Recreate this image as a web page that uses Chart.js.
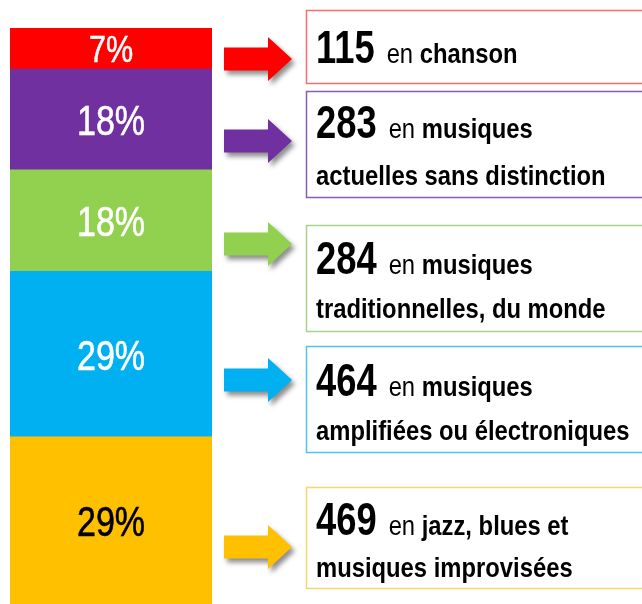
<!DOCTYPE html>
<html>
<head>
<meta charset="utf-8">
<script src="https://cdn.jsdelivr.net/npm/chart.js@4/dist/chart.umd.min.js"></script>
<style>
  html, body { margin: 0; padding: 0; background: #fff; }
  #wrap { width: 642px; height: 604px; position: relative; }
</style>
</head>
<body>
<div id="wrap"><canvas id="genreChart"></canvas></div>
<script>
// Data, top of the bar to bottom
const genres = ['chanson', 'actuelles', 'traditionnelles', 'amplifiées', 'jazz'];
const counts = [115, 283, 284, 464, 469];
const pctLabels = ['7%', '18%', '18%', '29%', '29%'];
const firstLine = ['chanson', 'musiques', 'musiques', 'musiques', 'jazz, blues et'];
const secondLine = ['', 'actuelles sans distinction', 'traditionnelles, du monde', 'amplifiées ou électroniques', 'musiques improvisées'];

const fills = ['#FF0000', '#7030A0', '#92D050', '#00B0F0', '#FFC000'];
const borders = ['#FF6B6B', '#8A5BB5', '#A9D38A', '#4FC3F0', '#F7D66E'];
const pctColors = ['#fff', '#fff', '#fff', '#fff', '#000'];

// layout of the callouts on the right
const arrowY = [59, 141, 244, 380, 547];
const boxTop = [10, 91, 225, 346, 487];
const boxBottom = [83, 197, 331, 452, 588];
const base1 = [63, 138, 274, 396, 535];
const base2 = [0, 185, 318, 440, 577];

// no narrow font installed: squeeze Liberation Sans horizontally instead
const FONT = '"Liberation Sans", Arial, sans-serif';

const total = counts.reduce((a, b) => a + b, 0);

// chart.js stacks from the bottom, so reverse
const datasets = genres.map((g, i) => ({
  label: g,
  data: [counts[i]],
  backgroundColor: fills[i],
  borderWidth: 0,
  idx: i
})).reverse();

function narrowText(ctx, text, x, y, font, squeeze, align, thicken) {
  ctx.save();
  ctx.font = font;
  ctx.textAlign = align || 'left';
  ctx.translate(x, y);
  ctx.scale(squeeze, 1);
  ctx.fillText(text, 0, 0);
  if (thicken) {
    ctx.strokeStyle = ctx.fillStyle;
    ctx.lineWidth = thicken;
    ctx.strokeText(text, 0, 0);
  }
  const w = ctx.measureText(text).width * squeeze;
  ctx.restore();
  return w;
}

function drawArrow(ctx, y, color) {
  const x0 = 224, xh = 268, xt = 292;
  ctx.save();
  ctx.shadowColor = 'rgba(0,0,0,0.45)';
  ctx.shadowBlur = 5;
  ctx.shadowOffsetX = 3;
  ctx.shadowOffsetY = 4;
  ctx.fillStyle = color;
  ctx.beginPath();
  ctx.moveTo(x0, y - 11.5);
  ctx.lineTo(xh, y - 11.5);
  ctx.lineTo(xh, y - 22);
  ctx.lineTo(xt, y);
  ctx.lineTo(xh, y + 22);
  ctx.lineTo(xh, y + 11.5);
  ctx.lineTo(x0, y + 11.5);
  ctx.closePath();
  ctx.fill();
  ctx.restore();
}

const callouts = {
  id: 'callouts',
  afterDatasetsDraw(chart) {
    const ctx = chart.ctx;
    ctx.save();
    ctx.textBaseline = 'alphabetic';
    // percentages on the segments, smaller when the segment is thin
    chart.data.datasets.forEach((ds, d) => {
      const bar = chart.getDatasetMeta(d).data[0];
      const i = ds.idx;
      const h = Math.abs(bar.base - bar.y);
      const size = Math.min(42, h * 0.92);
      ctx.fillStyle = pctColors[i];
      narrowText(ctx, pctLabels[i], bar.x, (bar.y + bar.base) / 2 + size * 0.37,
        size + 'px ' + FONT, 0.81, 'center', 0.6);
    });

    genres.forEach((g, i) => {
      drawArrow(ctx, arrowY[i], fills[i]);

      // box
      ctx.strokeStyle = borders[i];
      ctx.lineWidth = 1.5;
      ctx.strokeRect(306.5, boxTop[i] + 0.5, 345, boxBottom[i] - boxTop[i]);

      // text
      ctx.fillStyle = '#000';
      let x = 316;
      x += narrowText(ctx, String(counts[i]), x, base1[i], 'bold 46px ' + FONT, 0.79) + 12;
      x += narrowText(ctx, 'en ', x, base1[i], '28px ' + FONT, 0.85);
      narrowText(ctx, firstLine[i], x, base1[i], 'bold 28px ' + FONT, 0.85);
      if (secondLine[i]) {
        narrowText(ctx, secondLine[i], 316, base2[i], 'bold 28px ' + FONT, 0.85);
      }
    });
    ctx.restore();
  }
};

new Chart(document.getElementById('genreChart'), {
  type: 'bar',
  data: { labels: ['Projets'], datasets: datasets },
  options: {
    responsive: true,
    maintainAspectRatio: false,
    animation: false,
    layout: { padding: { left: 10, right: 430, top: 28, bottom: 0 } },
    datasets: { bar: { categoryPercentage: 1, barPercentage: 1 } },
    scales: {
      x: { stacked: true, display: false },
      y: { stacked: true, display: false, min: 0, max: total }
    },
    plugins: { legend: { display: false }, tooltip: { enabled: false } }
  },
  plugins: [callouts]
});
</script>
</body>
</html>
